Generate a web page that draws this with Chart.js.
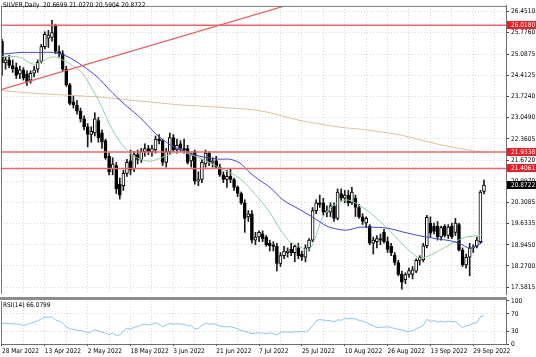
<!DOCTYPE html>
<html><head><meta charset="utf-8">
<script src="https://cdn.jsdelivr.net/npm/chart.js@4.4.1/dist/chart.umd.min.js"></script>
<style>
html,body{margin:0;padding:0;background:#fff;}
#wrap{position:relative;width:536px;height:357px;overflow:hidden;background:#fff;}
#c1{position:absolute;left:0;top:0;}
#c2{position:absolute;left:0;top:295px;}
#sep{position:absolute;left:0;top:297px;width:507px;height:3px;background:#8c8c8c;}
.t{position:absolute;font-family:'Liberation Sans Narrow','DejaVu Sans Condensed','Liberation Sans',sans-serif;font-size:6.5px;color:#000;white-space:nowrap;line-height:8px;}
</style></head>
<body><div id="wrap">
<canvas id="c1" width="536" height="300"></canvas>
<canvas id="c2" width="536" height="62"></canvas>
<div id="sep"></div>
<div class="t" style="left:3px;top:1px;">SILVER,Daily&nbsp; 20.6699 21.0270 20.5904 20.8722</div>
<div class="t" style="left:3px;top:301px;">RSI(14) 66.0799</div>
</div>
<script>
// ---- data (bar index 0 = 28 Mar 2022) ----
const OPEN  = [25.50,24.80,24.90,24.72,24.65,24.45,24.58,24.45,24.25,24.47,24.60,24.85,25.33,25.60,25.62,26.00,25.17,25.10,24.60,24.10,23.55,23.45,23.25,23.00,22.75,22.50,22.55,22.95,22.55,22.30,21.80,21.40,21.50,20.90,20.85,21.25,21.65,21.40,21.85,21.70,21.95,22.05,21.95,22.00,22.35,22.30,21.60,21.95,22.40,22.00,22.20,22.05,22.05,21.65,21.95,21.00,21.05,21.55,21.90,21.60,21.65,21.45,21.20,21.05,21.15,21.05,20.80,20.60,20.30,19.85,19.95,19.10,19.20,19.30,19.20,19.00,18.95,18.90,18.35,18.60,18.70,18.80,18.70,18.85,18.65,18.55,18.85,19.10,20.05,20.30,20.30,20.00,20.00,20.20,19.80,20.60,20.45,20.55,20.30,20.45,20.15,19.85,19.65,19.55,19.00,19.05,19.15,19.35,19.05,18.90,18.62,18.38,18.00,17.83,18.00,18.00,18.10,18.45,18.46,18.92,19.65,19.55,19.55,19.20,19.55,19.25,19.55,19.35,19.60,18.78,18.30,18.55,18.85,18.90,19.05,20.67];
const HIGH  = [25.56,25.00,25.05,24.90,24.80,24.70,24.65,24.55,24.55,24.70,24.90,25.40,25.80,25.85,26.17,26.05,25.35,25.20,24.70,24.15,23.75,23.60,23.35,23.10,22.85,22.75,23.20,23.05,22.65,22.35,21.90,21.75,21.60,21.10,21.35,21.70,22.00,21.95,22.00,22.05,22.20,22.15,22.15,22.45,22.50,22.35,22.05,22.55,22.50,22.35,22.30,22.35,22.15,21.90,22.00,21.30,21.70,22.00,21.95,21.75,21.80,21.55,21.30,21.35,21.40,21.10,20.85,20.65,20.40,20.05,20.05,19.35,19.40,19.40,19.25,19.10,19.05,19.00,18.70,18.90,18.85,19.00,18.95,19.00,18.75,18.95,19.15,20.15,20.40,20.55,20.45,20.20,20.30,20.30,20.75,20.75,20.70,20.70,20.80,20.55,20.25,19.95,19.85,19.60,19.20,19.25,19.30,19.45,19.20,19.00,18.70,18.45,18.10,18.05,18.20,18.25,18.50,18.60,19.00,19.90,19.85,19.65,19.70,19.55,19.60,19.60,19.65,19.80,19.65,18.85,18.65,19.00,18.95,19.20,20.70,21.03];
const LOW   = [24.40,24.60,24.65,24.50,24.30,24.30,24.25,24.08,24.15,24.35,24.50,24.80,25.25,25.30,25.50,25.10,25.00,24.55,24.05,23.45,23.35,23.15,22.90,22.65,22.10,22.25,22.45,22.25,22.05,21.70,21.20,21.20,20.60,20.42,20.70,21.15,21.20,21.30,21.55,21.60,21.80,21.85,21.80,21.90,22.20,21.50,21.45,21.85,21.95,21.90,21.95,21.90,21.55,21.45,20.90,20.85,20.95,21.45,21.50,21.45,21.40,21.15,20.95,20.80,20.95,20.70,20.50,20.25,19.35,19.70,19.00,18.95,19.05,19.05,18.90,18.75,18.75,18.11,18.25,18.50,18.55,18.60,18.40,18.50,18.45,18.40,18.75,19.05,19.95,20.15,19.90,19.85,19.85,19.70,19.75,20.35,20.30,20.20,20.25,19.86,19.80,19.60,19.50,18.95,18.65,18.85,18.95,19.00,18.70,18.60,18.30,17.95,17.52,17.70,17.90,17.85,18.05,18.30,18.40,18.85,19.20,19.30,19.10,19.10,19.20,19.15,19.15,19.25,18.75,18.25,18.20,17.95,18.70,18.85,19.00,20.59];
const CLOSE = [24.80,24.90,24.72,24.62,24.40,24.58,24.32,24.20,24.47,24.58,24.82,25.33,25.72,25.70,25.78,25.17,25.10,24.60,24.10,23.50,23.45,23.25,23.00,22.75,22.50,22.60,23.00,22.40,22.25,21.75,21.30,21.55,20.75,20.55,21.25,21.60,21.35,21.85,21.70,21.95,22.05,21.95,22.05,22.35,22.30,21.60,21.95,22.40,22.00,22.15,22.05,22.00,21.60,21.85,21.00,21.05,21.60,21.90,21.60,21.62,21.45,21.20,21.05,21.15,21.05,20.80,20.60,20.30,19.80,19.95,19.10,19.20,19.35,19.15,18.95,18.92,18.90,18.35,18.60,18.75,18.75,18.70,18.90,18.60,18.55,18.85,19.10,20.05,20.30,20.25,20.00,20.05,20.20,19.80,20.65,20.45,20.55,20.30,20.65,20.15,19.85,19.70,19.80,19.00,19.10,19.15,19.10,19.05,18.80,18.70,18.38,18.00,17.75,17.99,18.12,18.14,18.45,18.55,18.92,19.83,19.32,19.38,19.20,19.50,19.25,19.52,19.20,19.65,18.78,18.30,18.55,18.85,18.88,19.10,20.65,20.87];
const RSI   = [48,48,47,47,46,46,43,45,48,51,54,58,62,62,63,56,53,48,40,35,34,32,31,29,26,28,33,30,28,25,22,25,20,21,30,37,34,39,40,44,46,44,46,49,46,40,44,48,46,47,46,46,42,43,35,36,43,48,46,47,46,42,40,40,40,38,35,31,29,27,24,25,26,25,24,26,24,21,27,28,28,27,29,28,29,28,32,42,54,57,55,55,54,52,56,55,60,58,60,58,55,53,50,46,42,38,39,39,40,38,36,34,33,30,29,31,35,39,43,57,53,54,51,53,51,53,52,52,45,38,42,44,48,49,63,66];
// moving averages (bar index, price)
const MA_BLUE_X = [-0.56,5.04,10.64,14.29,18.21,22.69,26.61,30.25,33.89,38.66,43.42,47.06,49.86,55.46,61.06,63.87,66.67,69.47,72.27,75.07,78.71,83.47,87.11,91.04,93.84,96.64,100.28,103.08,107.84,112.32,117.09,121.85,125.49,128.29,131.09,133.05,134.73];
const MA_BLUE_Y = [25.077,25.139,25.139,25.139,25.014,24.702,24.359,23.921,23.515,23.047,22.485,22.172,22.016,21.798,21.704,21.704,21.579,21.267,21.017,20.798,20.393,20.080,19.830,19.549,19.455,19.424,19.518,19.518,19.487,19.362,19.237,19.143,19.080,18.987,18.831,18.924,19.049];
const MA_GREEN_X = [0,5.04,8.68,11.48,13.45,15.41,17.65,20.45,22.69,25.49,27.45,30.25,33.05,35.85,38.66,41.46,44.26,47.06,49.86,55.46,61.06,66.67,72.27,75.07,77.87,80.67,83.47,85.71,87.68,89.92,93.84,96.92,100.28,103.08,105.88,108.68,111.48,114.29,117.09,119.89,123.53,127.45,130.25,133.05,134.73];
const MA_GREEN_Y = [25.014,24.983,24.765,24.858,24.983,24.983,24.858,24.671,24.452,23.921,23.515,22.797,22.266,21.891,21.704,21.641,21.735,21.860,21.954,21.735,21.423,21.079,20.393,19.986,19.455,19.049,18.893,18.768,19.143,19.861,20.299,20.393,20.205,19.986,19.705,19.393,19.049,18.737,18.518,18.612,18.831,19.080,19.206,19.237,19.299];
const MA_TAN_X = [-0.56,8.68,18.21,27.45,35.85,49.86,59.10,72.27,83.47,94.68,100.28,111.48,122.69,134.73];
const MA_TAN_Y = [23.921,23.828,23.765,23.703,23.609,23.453,23.390,23.265,22.953,22.735,22.672,22.485,22.172,21.922];
const TREND_X = [-0.3, 80];
const TREND_Y = [23.943, 26.664];
const LEVELS = [26.0180, 21.9338, 21.4061];
const LAST_PRICE = 20.8722;
const PRICE_TICKS = [26.4510,25.7760,25.0875,24.4125,23.7240,23.0490,22.3605,21.6720,20.9970,20.3085,19.6335,18.9450,18.2700,17.5815];
const RSI_TICKS = [0,30,70,100];
const DATE_LABELS = ['28 Mar 2022','13 Apr 2022','2 May 2022','18 May 2022','3 Jun 2022','21 Jun 2022','7 Jul 2022','25 Jul 2022','10 Aug 2022','26 Aug 2022','13 Sep 2022','29 Sep 2022'];

const FONT = "'Liberation Sans Narrow','DejaVu Sans Condensed','Liberation Sans',sans-serif";
Chart.defaults.font.family = FONT;
Chart.defaults.font.size = 6.5;
Chart.defaults.color = '#000';

const XMIN = -0.28, XMAX = 141.17;
const GRID_X = []; for (let v = 0; v <= 138; v += 6) GRID_X.push(v);
const idx = OPEN.map((_, i) => i);
const wicks = idx.map(i => ({x: i, y: [LOW[i], HIGH[i]]}));
const bodies = idx.map(i => ({x: i, y: [Math.min(OPEN[i], CLOSE[i]), Math.max(OPEN[i], CLOSE[i])]}));
const bodyFill = idx.map(i => CLOSE[i] >= OPEN[i] ? '#ffffff' : '#000000');
const pts = (xs, ys) => xs.map((x, k) => ({x, y: ys[k]}));
const GRIDC = '#d6d6d6';

const lineDs = (data, color, w, order, tension) => ({type: 'line', data, borderColor: color, borderWidth: w, pointRadius: 0, tension: tension, order, fill: false});

const pricePlugin = {
  id: 'pricePlugin',
  afterDraw(chart) {
    const {ctx, chartArea: a, scales: {y}} = chart;
    ctx.save();
    ctx.strokeStyle = '#7a7a7a'; ctx.lineWidth = 1;
    ctx.beginPath();
    ctx.moveTo(a.left + 0.5, a.top); ctx.lineTo(a.left + 0.5, a.bottom);
    ctx.moveTo(a.left, a.top + 0.5); ctx.lineTo(a.right, a.top + 0.5);
    ctx.stroke();
    ctx.font = '6.5px ' + FONT; ctx.textBaseline = 'middle'; ctx.textAlign = 'left';
    LEVELS.forEach(v => {
      const py = Math.round(y.getPixelForValue(v));
      ctx.fillStyle = '#ee1c24'; ctx.fillRect(a.right + 1, py - 4, 30, 8);
      ctx.fillStyle = '#ffffff'; ctx.fillText(v.toFixed(4), a.right + 5, py + 0.5);
    });
    const pc = Math.round(y.getPixelForValue(LAST_PRICE));
    ctx.fillStyle = '#000'; ctx.fillRect(a.right + 1, pc - 4, 30, 8);
    ctx.fillStyle = '#fff'; ctx.fillText(LAST_PRICE.toFixed(4), a.right + 5, pc + 0.5);
    ctx.restore();
  }
};

new Chart(document.getElementById('c1'), {
  type: 'bar',
  data: {datasets: [
    {type: 'bar', data: wicks, backgroundColor: '#1a1a1a', barThickness: 1, grouped: false, order: 5},
    {type: 'bar', data: bodies, backgroundColor: bodyFill, borderColor: '#000', borderWidth: 1, borderSkipped: false, barThickness: 3, grouped: false, minBarLength: 1, order: 4},
    lineDs(pts(MA_TAN_X, MA_TAN_Y), '#e0bf9c', 1, 3, 0.3),
    lineDs(pts(MA_GREEN_X, MA_GREEN_Y), '#8fcfa5', 1, 2, 0.3),
    lineDs(pts(MA_BLUE_X, MA_BLUE_Y), '#4646c8', 1, 1, 0.3),
    ...LEVELS.map(v => lineDs([{x: XMIN, y: v}, {x: XMAX, y: v}], '#f06464', 1.5, 0, 0)),
    lineDs(pts(TREND_X, TREND_Y), '#e85a5a', 1.2, 0, 0)
  ]},
  options: {
    responsive: false, animation: false, devicePixelRatio: 1,
    layout: {padding: {left: 1, right: 0, top: 0, bottom: 3}},
    plugins: {legend: {display: false}, tooltip: {enabled: false}},
    scales: {
      x: {type: 'linear', min: XMIN, max: XMAX, offset: false,
          afterBuildTicks: s => { s.ticks = GRID_X.map(v => ({value: v})); },
          afterFit: s => { s.height = 0; },
          ticks: {display: false},
          grid: {color: GRIDC, drawTicks: false, offset: false},
          border: {display: false, dash: [1, 2]}},
      y: {position: 'right', min: 17.3629, max: 26.6384,
          afterBuildTicks: s => { s.ticks = PRICE_TICKS.map(v => ({value: v})); },
          afterFit: s => { s.width = 30; },
          ticks: {callback: v => Number(v).toFixed(4), padding: 2, color: '#000'},
          grid: {color: GRIDC, tickLength: 3, tickColor: '#444'},
          border: {display: true, color: '#6e6e6e', width: 1, dash: [1, 2]}}
    }
  },
  plugins: [pricePlugin]
});

const rsiPlugin = {
  id: 'rsiPlugin',
  afterDraw(chart) {
    const {ctx, chartArea: a} = chart;
    ctx.save();
    ctx.strokeStyle = '#7a7a7a'; ctx.lineWidth = 1;
    ctx.beginPath();
    ctx.moveTo(a.left + 0.5, a.top); ctx.lineTo(a.left + 0.5, a.bottom);
    ctx.stroke();
    ctx.restore();
  }
};

new Chart(document.getElementById('c2'), {
  type: 'line',
  data: {datasets: [
    {data: pts(idx, RSI), borderColor: '#8cc2f2', borderWidth: 1, pointRadius: 0, tension: 0, fill: false}
  ]},
  options: {
    responsive: false, animation: false, devicePixelRatio: 1,
    layout: {padding: {left: 1, right: 0, top: 5, bottom: 0}},
    plugins: {legend: {display: false}, tooltip: {enabled: false}},
    scales: {
      x: {type: 'linear', min: XMIN, max: XMAX, offset: false,
          afterBuildTicks: s => { s.ticks = GRID_X.map(v => ({value: v})); },
          afterFit: s => { s.height = 13; },
          ticks: {align: 'start', autoSkip: false, maxRotation: 0, padding: 1,
                  callback: v => (v % 12 === 0 && DATE_LABELS[v / 12]) ? DATE_LABELS[v / 12] : ''},
          grid: {color: GRIDC, tickLength: 2, tickColor: c => (c.tick && c.tick.value % 12 === 0) ? '#444' : 'rgba(0,0,0,0)'},
          border: {display: true, color: '#6e6e6e', width: 1, dash: [1, 2]}},
      y: {position: 'right', min: 0, max: 100,
          afterBuildTicks: s => { s.ticks = RSI_TICKS.map(v => ({value: v})); },
          afterFit: s => { s.width = 30; },
          ticks: {padding: 2, color: '#000'},
          grid: {color: c => (c.tick && (c.tick.value === 30 || c.tick.value === 70)) ? GRIDC : 'rgba(0,0,0,0)', tickLength: 3, tickColor: '#444'},
          border: {display: true, color: '#6e6e6e', width: 1, dash: [1, 2]}}
    }
  },
  plugins: [rsiPlugin]
});
</script>
</body></html>
